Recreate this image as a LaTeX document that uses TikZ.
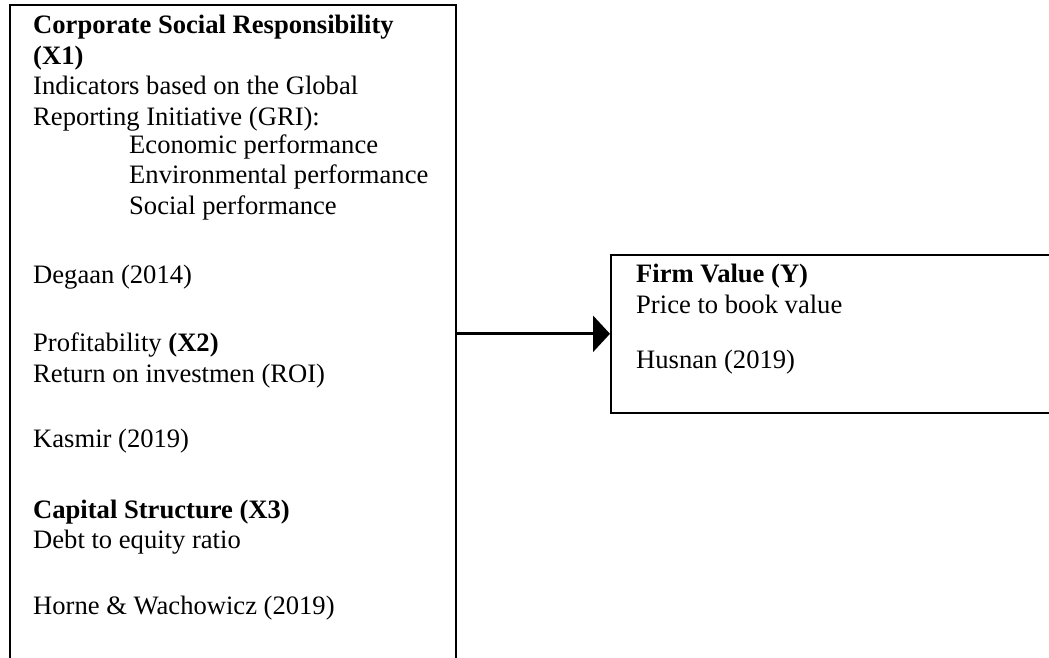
\documentclass[tikz,border=0pt]{standalone}
\usepackage{fontspec}
\setmainfont{Liberation Serif}
\usetikzlibrary{arrows.meta}
\tikzset{
  frame/.style={draw=black, line width=1.6pt, inner sep=0pt, anchor=north west},
  txt/.style={anchor=base west, inner sep=0pt, font=\fontsize{26.6}{30.7}\selectfont},
  link/.style={line width=3pt, -{Triangle[length=17pt,width=36pt]}}
}
\begin{document}
\begin{tikzpicture}[x=1pt,y=1pt]
  \useasboundingbox (0,0) rectangle (1049,-657);
  \clip (0,0) rectangle (1049,-657);
  \fill[white] (0,0) rectangle (1049,-657);

  % independent variables box (runs past the lower edge)
  \node[frame, minimum width=446pt, minimum height=720pt] (indep) at (9,-4) {};
  % dependent variable box (runs past the right edge)
  \node[frame, minimum width=480pt, minimum height=158pt] (firm) at (610,-254) {};

  % text of the left box
  \node[txt] (t1) at (33,-33) {\bfseries Corporate Social Responsibility};
  \node[txt] (t2) at (33,-64) {\bfseries (X1)};
  \node[txt] (t3) at (33,-94) {Indicators based on the Global};
  \node[txt] (t4) at (33,-125) {Reporting Initiative (GRI):};
  \node[txt] (t5) at (129,-153) {Economic performance};
  \node[txt] (t6) at (129,-183) {Environmental performance};
  \node[txt] (t7) at (129,-214) {Social performance};
  \node[txt] (t8) at (33,-283) {Degaan (2014)};
  \node[txt] (t9) at (33,-351) {Profitability \textbf{(X2)}};
  \node[txt] (t10) at (33,-382) {Return on investmen (ROI)};
  \node[txt] (t11) at (33,-447) {Kasmir (2019)};
  \node[txt] (t12) at (33,-518) {\bfseries Capital Structure (X3)};
  \node[txt] (t13) at (33,-548) {Debt to equity ratio};
  \node[txt] (t14) at (33,-614) {Horne \& Wachowicz (2019)};

  % text of the right box
  \node[txt] (r1) at (636,-282) {\bfseries Firm Value (Y)};
  \node[txt] (r2) at (636,-313) {Price to book value};
  \node[txt] (r3) at (636,-368) {Husnan (2019)};

  % influence arrow
  \draw[link] (indep.east |- firm.west) -- (firm.west);
\end{tikzpicture}
\end{document}
